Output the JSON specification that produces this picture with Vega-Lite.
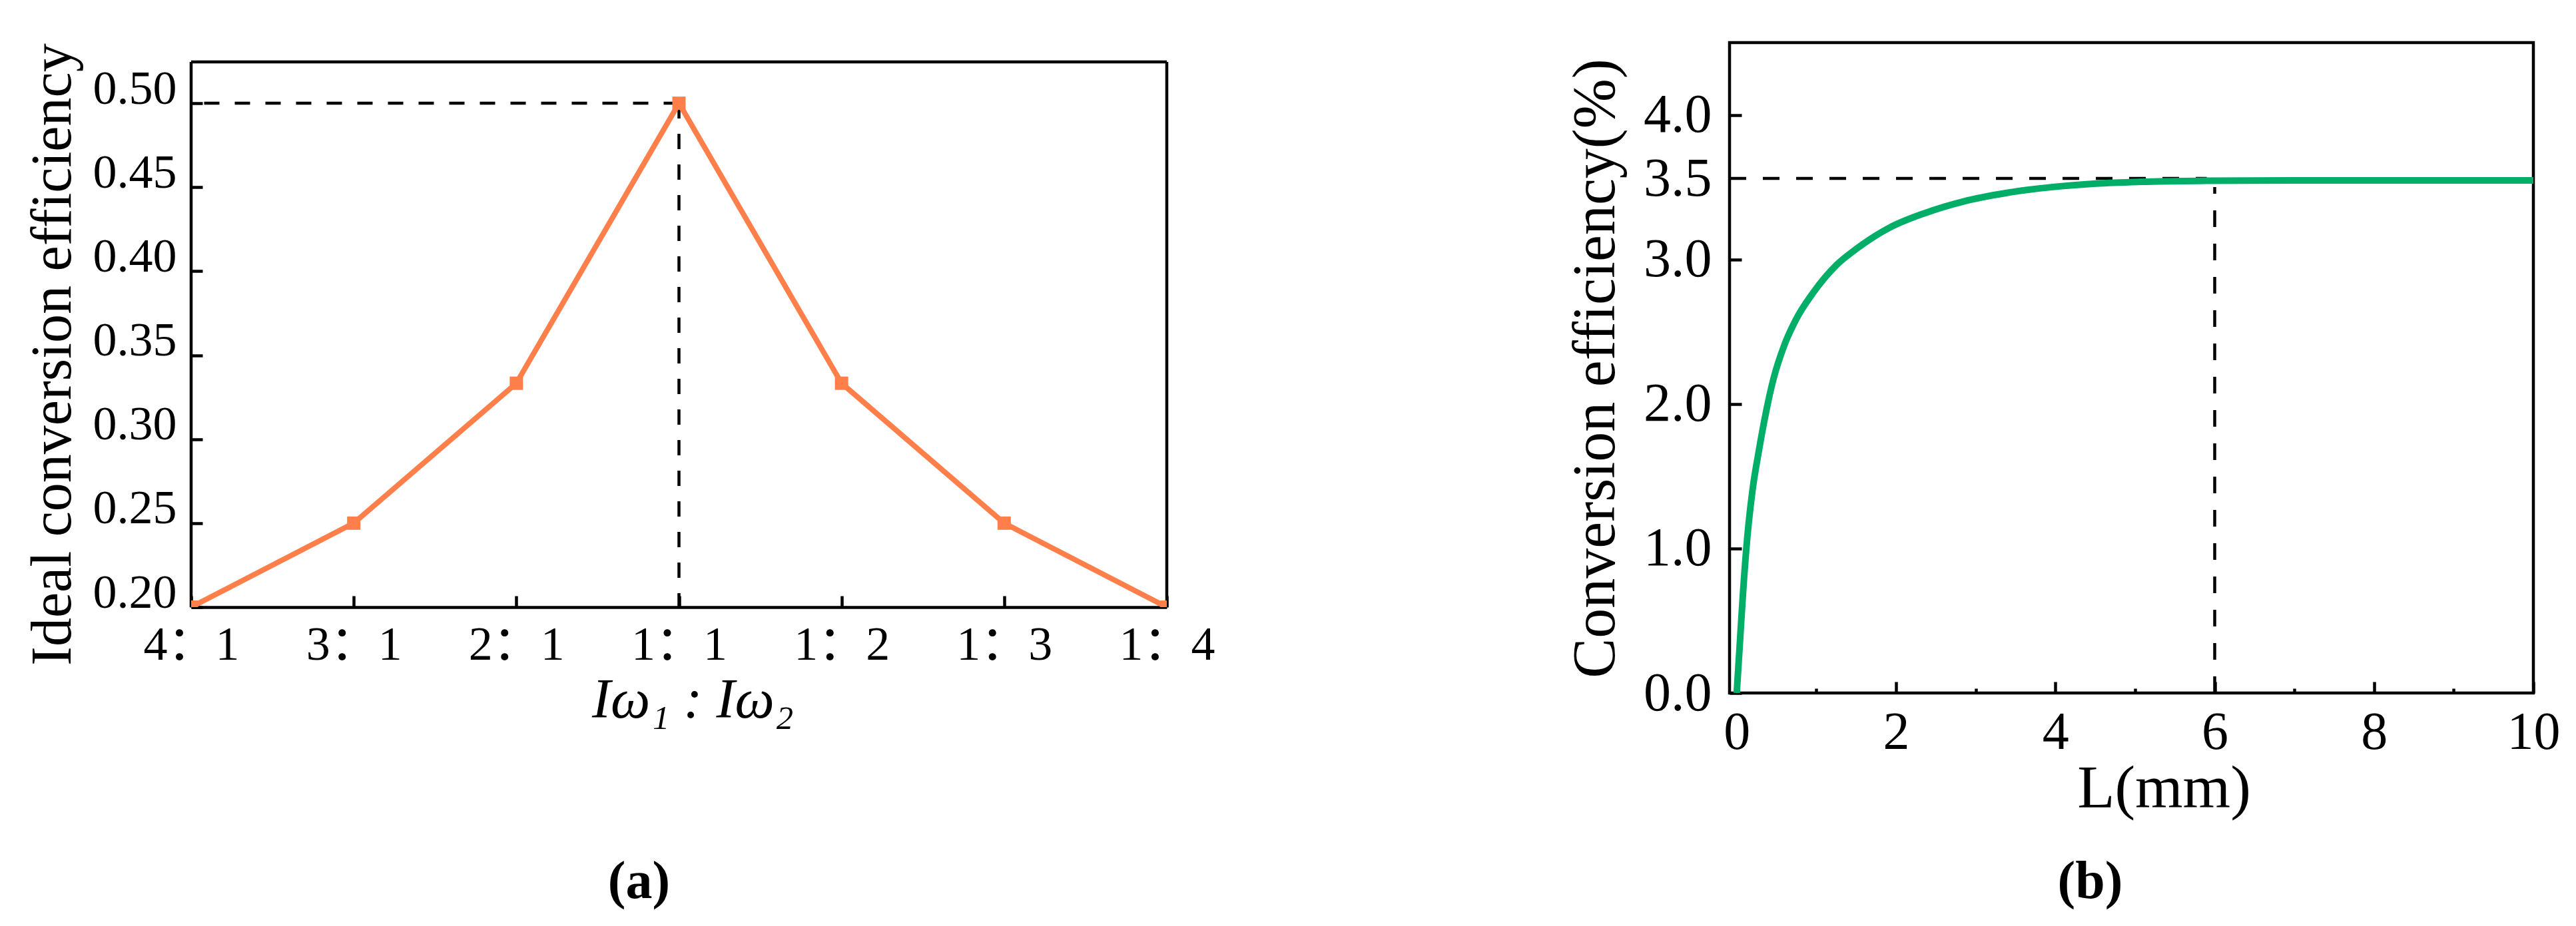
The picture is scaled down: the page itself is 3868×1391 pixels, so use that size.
{
  "$schema": "https://vega.github.io/schema/vega-lite/v6.json",
  "autosize": {"type": "none"},
  "padding": {"left": 287, "top": 64, "right": 3581, "bottom": 1327},
  "background": "white",
  "bounds": "flush",
  "spacing": 845,
  "config": {
    "font": "Liberation Serif",
    "view": {"stroke": "black", "strokeWidth": 4.5},
    "axis": {
      "grid": false,
      "domainColor": "black",
      "domainWidth": 4.5,
      "tickColor": "black",
      "tickWidth": 4.5,
      "labelColor": "black",
      "titleColor": "black",
      "labelFont": "Liberation Serif",
      "titleFont": "Liberation Serif",
      "titleFontWeight": "normal",
      "labelOverlap": false,
      "labelFlush": false,
      "labelBound": false
    },
    "title": {"font": "Liberation Serif", "color": "black"}
  },
  "hconcat": [
    {
      "width": 1465,
      "height": 848,
      "view": {"stroke": null},
      "title": {"text": "(a)", "orient": "bottom", "frame": "group", "anchor": "middle", "dx": -60, "offset": 255, "fontSize": 80, "fontWeight": "bold", "baseline": "alphabetic"},
      "data": {"values": [
        {"ratio": "4：1", "eff": 0.2},
        {"ratio": "3：1", "eff": 0.25},
        {"ratio": "2：1", "eff": 0.3333},
        {"ratio": "1：1", "eff": 0.5},
        {"ratio": "1：2", "eff": 0.3333},
        {"ratio": "1：3", "eff": 0.25},
        {"ratio": "1：4", "eff": 0.2}
      ]},
      "encoding": {
        "x": {
          "field": "ratio", "type": "ordinal", "sort": null,
          "scale": {"type": "point", "padding": 0, "domain": ["4：1", "3：1", "2：1", "1：1", "1：2", "1：3", "1：4"]},
          "axis": {
            "title": "Iω₁ : Iω₂",
            "titleFontStyle": "italic",
            "titleFontSize": 84,
            "titleBaseline": "alphabetic",
            "titleX": 753,
            "titleY": 165,
            "labelFontSize": 72,
            "labelFont": "Liberation Serif, Noto Sans CJK SC",
            "labelAngle": 0,
            "tickSize": -17,
            "labelPadding": 38,
            "domain": true
          }
        },
        "y": {
          "field": "eff", "type": "quantitative",
          "scale": {"domain": [0.2, 0.5361], "nice": false, "zero": false},
          "axis": {
            "title": "Ideal conversion efficiency",
            "titleFontSize": 86,
            "titleBaseline": "alphabetic",
            "titleX": -182,
            "titleY": 468,
            "values": [0.2, 0.25, 0.3, 0.35, 0.4, 0.45, 0.5],
            "format": ".2f",
            "labelFontSize": 72,
            "labelBaseline": "alphabetic",
            "tickSize": -17,
            "labelPadding": 39,
            "domain": false
          }
        }
      },
      "layer": [
        {
          "transform": [{"filter": "datum.ratio === '1：1'"}],
          "mark": {"type": "rule", "strokeDash": [23, 23], "strokeWidth": 4.5, "color": "black"},
          "encoding": {"x2": {"datum": "4：1", "type": "ordinal"}}
        },
        {
          "transform": [{"filter": "datum.ratio === '1：1'"}],
          "mark": {"type": "rule", "strokeDash": [23, 23], "strokeWidth": 4.5, "color": "black"},
          "encoding": {"y2": {"datum": 0.2}}
        },
        {
          "transform": [{"filter": "datum.ratio === '1：4'"}],
          "mark": {"type": "rule", "strokeWidth": 4.5, "color": "black"},
          "encoding": {"y": {"datum": 0.2}, "y2": {"datum": 0.5246}}
        },
        {
          "transform": [{"filter": "datum.ratio === '4：1'"}],
          "mark": {"type": "rule", "strokeWidth": 4.5, "color": "black"},
          "encoding": {"y": {"datum": 0.2}, "y2": {"datum": 0.5246}}
        },
        {
          "transform": [{"filter": "datum.ratio === '4：1'"}],
          "mark": {"type": "rule", "strokeWidth": 4.5, "color": "black"},
          "encoding": {"x2": {"datum": "1：4", "type": "ordinal"}, "y": {"datum": 0.5246}}
        },
        {
          "mark": {"type": "line", "color": "#FF7F4B", "strokeWidth": 8, "clip": true},
          "encoding": {}
        },
        {
          "mark": {"type": "point", "shape": "square", "filled": true, "opacity": 1, "size": 400, "color": "#FF7F4B", "clip": true},
          "encoding": {}
        }
      ]
    },
    {
      "width": 1207,
      "height": 977,
      "title": {"text": "(b)", "orient": "bottom", "frame": "group", "anchor": "middle", "dx": -62, "offset": 119, "fontSize": 80, "fontWeight": "bold", "baseline": "alphabetic"},
      "data": {"values": [
        {"L": 0.0, "v": 0.0},
        {"L": 0.04, "v": 0.35},
        {"L": 0.08, "v": 0.7},
        {"L": 0.13, "v": 1.06},
        {"L": 0.2, "v": 1.41},
        {"L": 0.27, "v": 1.65},
        {"L": 0.37, "v": 1.95},
        {"L": 0.46, "v": 2.17},
        {"L": 0.6, "v": 2.41},
        {"L": 0.74, "v": 2.58},
        {"L": 0.96, "v": 2.77},
        {"L": 1.25, "v": 2.96},
        {"L": 1.52, "v": 3.08},
        {"L": 1.92, "v": 3.22},
        {"L": 2.36, "v": 3.32},
        {"L": 2.84, "v": 3.4},
        {"L": 3.39, "v": 3.46},
        {"L": 3.95, "v": 3.5},
        {"L": 4.51, "v": 3.525},
        {"L": 5.06, "v": 3.537},
        {"L": 5.9, "v": 3.544},
        {"L": 7.0, "v": 3.546},
        {"L": 8.0, "v": 3.546},
        {"L": 9.0, "v": 3.546},
        {"L": 10.0, "v": 3.546}
      ]},
      "encoding": {
        "x": {
          "field": "L", "type": "quantitative",
          "scale": {"domain": [-0.09, 10.0], "nice": false, "zero": false},
          "axis": {
            "title": "L(mm)",
            "titleFontSize": 92,
            "titleBaseline": "alphabetic",
            "titleX": 652,
            "titleY": 171,
            "values": [0, 1, 2, 3, 4, 5, 6, 7, 8, 9, 10],
            "labelExpr": "datum.value % 2 === 0 ? datum.label : ''",
            "labelFontSize": 80,
            "tickSize": {"condition": {"test": "datum.value % 2 !== 0", "value": -7}, "value": -17},
            "labelPadding": 37,
            "domain": false
          }
        },
        "y": {
          "field": "v", "type": "quantitative",
          "scale": {"domain": [0, 4.5], "nice": false, "zero": false},
          "axis": {
            "title": "Conversion efficiency(%)",
            "titleFontSize": 90,
            "titleBaseline": "alphabetic",
            "titleX": -174,
            "titleY": 489,
            "values": [0, 1, 2, 3, 3.56, 4],
            "labelExpr": "datum.value === 3.56 ? '3.5' : format(datum.value, '.1f')",
            "labelFontSize": 82,
            "labelBaseline": "middle",
            "tickSize": -18,
            "labelPadding": 45,
            "tickOpacity": {"condition": {"test": "datum.value === 3.56", "value": 0}, "value": 1},
            "domain": false
          }
        }
      },
      "layer": [
        {
          "transform": [{"filter": "datum.L === 10"}],
          "mark": {"type": "rule", "strokeDash": [25, 25], "strokeWidth": 4.5, "color": "black"},
          "encoding": {"x": {"datum": -0.09}, "x2": {"datum": 5.9}, "y": {"datum": 3.56}}
        },
        {
          "transform": [{"filter": "datum.L === 10"}],
          "mark": {"type": "rule", "strokeDash": [25, 25], "strokeWidth": 4.5, "color": "black"},
          "encoding": {"x": {"datum": 6}, "y": {"datum": 0}, "y2": {"datum": 3.5}}
        },
        {
          "mark": {"type": "line", "color": "#00AE68", "strokeWidth": 10, "clip": true, "interpolate": "monotone"},
          "encoding": {}
        }
      ]
    }
  ]
}
